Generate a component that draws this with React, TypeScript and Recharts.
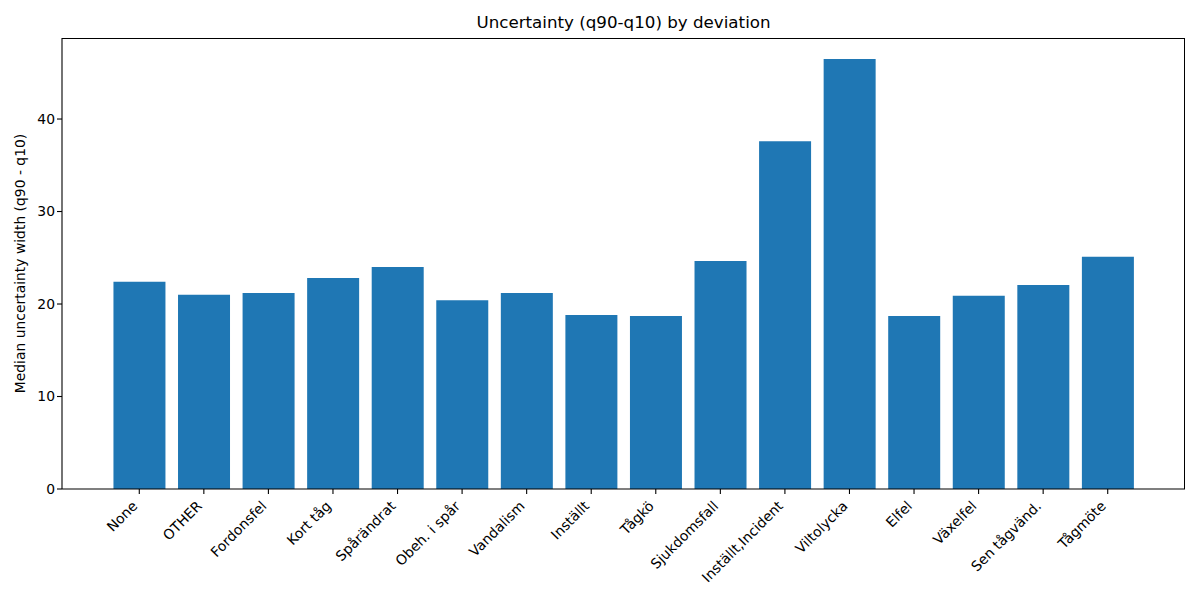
import { Bar, BarChart, XAxis, YAxis } from "recharts";

const deviations = [
  "None",
  "OTHER",
  "Fordonsfel",
  "Kort tåg",
  "Spårändrat",
  "Obeh. i spår",
  "Vandalism",
  "Inställt",
  "Tågkö",
  "Sjukdomsfall",
  "Inställt,Incident",
  "Viltolycka",
  "Elfel",
  "Växelfel",
  "Sen tågvänd.",
  "Tågmöte"
];
const medianWidth = [22.4, 21.0, 21.2, 22.8, 24.0, 20.4, 21.2, 18.8, 18.7, 24.65, 37.6, 46.5, 18.7, 20.9, 22.05, 25.1];
const yTicks = [0, 10, 20, 30, 40];

const FONT = "DejaVu Sans, sans-serif";
const data = deviations.map((name, i) => ({ name, value: medianWidth[i] }));

function RotatedTick({ x, y, payload }: any) {
  return (
    <g transform={`translate(${x - 8},${y + 4})`}>
      <text transform="rotate(-45)" textAnchor="end" dy="0.71em" fontSize={13.9} fill="#000" fontFamily={FONT}>
        {payload.value}
      </text>
    </g>
  );
}

export default function App() {
  return (
    <div style={{ position: "absolute", left: 0, top: 0, width: 1200, height: 600, background: "#fff", fontFamily: FONT }}>
      <div style={{ position: "absolute", left: 0, top: 12, width: 1247, textAlign: "center", fontSize: 16.7, color: "#000" }}>
        Uncertainty (q90-q10) by deviation
      </div>
      <BarChart width={1200} height={600} data={data} margin={{ top: 38, right: 15, bottom: 0, left: 0 }} barCategoryGap="10%">
        <XAxis
          dataKey="name"
          interval={0}
          height={111}
          padding={{ left: 45, right: 45 }}
          tick={<RotatedTick />}
          tickSize={5}
          axisLine={{ stroke: "#000", strokeWidth: 1.1 }}
          tickLine={{ stroke: "#000", strokeWidth: 1.1 }}
        />
        <YAxis
          domain={[0, 48.76]}
          ticks={yTicks}
          width={62}
          tickSize={5}
          tick={{ fontSize: 13.9, fill: "#000", fontFamily: FONT }}
          axisLine={{ stroke: "#000", strokeWidth: 1.1 }}
          tickLine={{ stroke: "#000", strokeWidth: 1.1 }}
          label={{
            value: "Median uncertainty width (q90 - q10)",
            angle: -90,
            position: "insideLeft",
            offset: 20,
            style: { textAnchor: "middle", fontSize: 13.9, fill: "#000", fontFamily: FONT }
          }}
        />
        <Bar dataKey="value" fill="#1f77b4" isAnimationActive={false} />
      </BarChart>
      {/* top and right spines of the plot frame */}
      <div
        style={{
          position: "absolute",
          left: 62,
          top: 38,
          width: 1123,
          height: 451,
          borderTop: "1.1px solid #000",
          borderRight: "1.1px solid #000",
          boxSizing: "border-box",
          pointerEvents: "none"
        }}
      />
    </div>
  );
}
